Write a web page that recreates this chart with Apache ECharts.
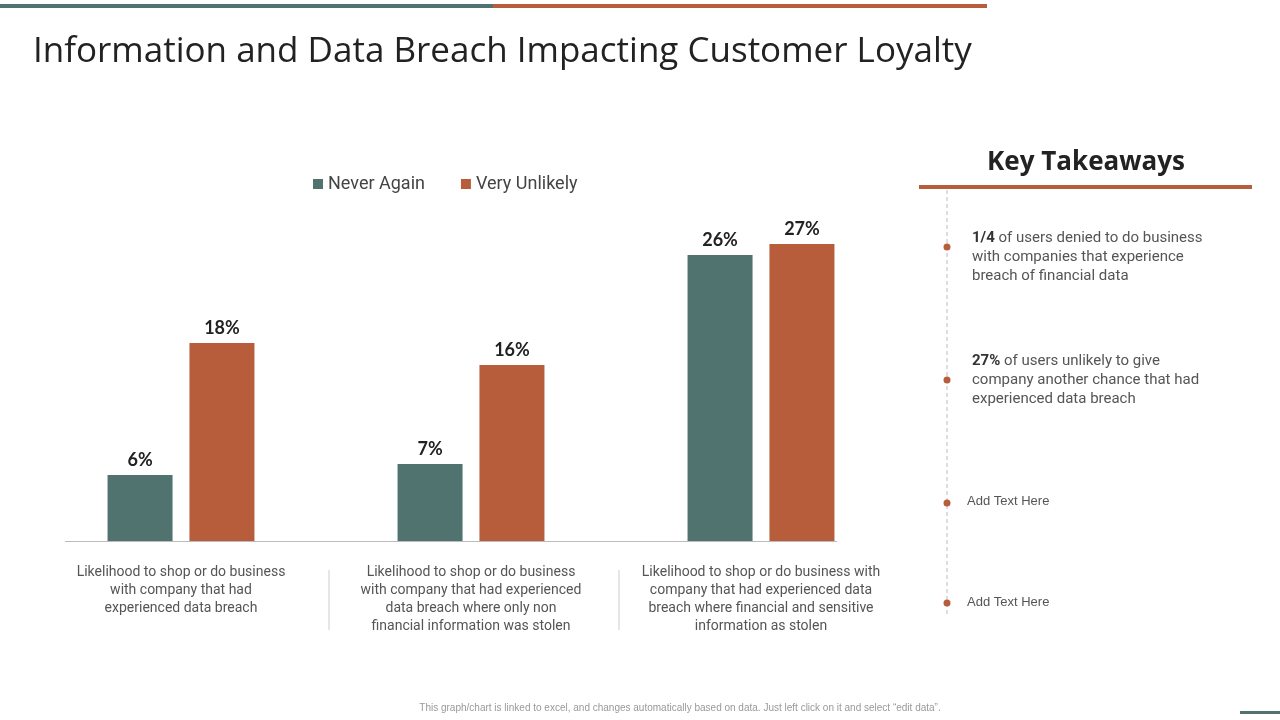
<!DOCTYPE html>
<html><head><meta charset="utf-8">
<script src="https://cdn.jsdelivr.net/npm/echarts@6/dist/echarts.min.js"></script>
<style>html,body{margin:0;padding:0;background:#fff}#c{width:1280px;height:720px}</style>
</head><body><div id="c"></div>
<script>
const categories = [
  "Likelihood to shop or do business\nwith company that had\nexperienced data breach",
  "Likelihood to shop or do business\nwith company that had experienced\ndata breach where only non\nfinancial information was stolen",
  "Likelihood to shop or do business with\ncompany that had experienced data\nbreach where financial and sensitive\ninformation as stolen"
];
const neverAgain = [6, 7, 26];
const veryUnlikely = [18, 16, 27];
const teal = '#51736f', orange = '#b75d3b';
const chart = echarts.init(document.getElementById('c'));
const lbl = {show:true, position:'top', formatter:'{c}%', fontSize:18, fontWeight:'bold', color:'#222', fontFamily:'Lato', distance:6};
const rich = {b:{fontWeight:'bold', fontSize:15, fill:'#333', fontFamily:'Roboto'}};
chart.setOption({
  animation:false,
  textStyle:{fontFamily:'Roboto'},
  title:{text:'Information and Data Breach Impacting Customer Loyalty', left:28, top:30,
    textStyle:{fontSize:35, fontWeight:'normal', color:'#222', fontFamily:'Open Sans'}},
  legend:{top:170, left:308, itemWidth:10, itemHeight:10, itemGap:36, icon:'rect',
    textStyle:{fontSize:18, color:'#444'}},
  grid:{left:36, width:870, top:244, bottom:179},
  xAxis:{type:'category', data:categories, axisLine:{show:false}, axisTick:{show:false},
    axisLabel:{interval:0, fontSize:14, color:'#555', lineHeight:18, margin:22, verticalAlign:'top'}},
  yAxis:{type:'value', min:0, max:27, show:false, splitLine:{show:false}},
  series:[
    {name:'Never Again', type:'bar', data:neverAgain, barWidth:65, barGap:'26%', itemStyle:{color:teal}, label:lbl},
    {name:'Very Unlikely', type:'bar', data:veryUnlikely, barWidth:65, itemStyle:{color:orange}, label:lbl}
  ],
  graphic:[
    {type:'rect', shape:{x:0,y:4,width:493,height:4}, style:{fill:teal}},
    {type:'rect', shape:{x:493,y:4,width:494,height:4}, style:{fill:orange}},
    {type:'rect', shape:{x:1240,y:711,width:40,height:3}, style:{fill:teal}},
    {type:'line', shape:{x1:65,y1:541.5,x2:837,y2:541.5}, style:{stroke:'#bbb', lineWidth:1}},
    {type:'line', shape:{x1:329,y1:570,x2:329,y2:630}, style:{stroke:'#ccc', lineWidth:1}},
    {type:'line', shape:{x1:619,y1:570,x2:619,y2:630}, style:{stroke:'#ccc', lineWidth:1}},
    {type:'text', x:1086, y:163, style:{text:'Key Takeaways', fontSize:26, fontWeight:'bold', fill:'#222', fontFamily:'Open Sans', align:'center', verticalAlign:'middle'}},
    {type:'rect', shape:{x:919,y:185,width:333,height:4}, style:{fill:orange}},
    {type:'line', shape:{x1:947,y1:190,x2:947,y2:615}, style:{stroke:'#bbb', lineWidth:1, lineDash:[4,3]}},
    {type:'circle', shape:{cx:947,cy:247,r:3.5}, style:{fill:orange}},
    {type:'circle', shape:{cx:947,cy:380,r:3.5}, style:{fill:orange}},
    {type:'circle', shape:{cx:947,cy:503,r:3.5}, style:{fill:orange}},
    {type:'circle', shape:{cx:947,cy:603,r:3.5}, style:{fill:orange}},
    {type:'text', x:972, y:229, style:{text:'{b|1/4} of users denied to do business\nwith companies that experience\nbreach of financial data', fontSize:15, lineHeight:19, fill:'#555', fontFamily:'Roboto', rich:rich}},
    {type:'text', x:972, y:352, style:{text:'{b|27%} of users unlikely to give\ncompany another chance that had\nexperienced data breach', fontSize:15, lineHeight:19, fill:'#555', fontFamily:'Roboto', rich:rich}},
    {type:'text', x:967, y:501, style:{text:'Add Text Here', fontSize:13, fill:'#555', verticalAlign:'middle'}},
    {type:'text', x:967, y:602, style:{text:'Add Text Here', fontSize:13, fill:'#555', verticalAlign:'middle'}},
    {type:'text', x:680, y:708, style:{text:'This graph/chart is linked to excel, and changes automatically based on data. Just left click on it and select \u201cedit data\u201d.', fontSize:10, fill:'#999', align:'center', verticalAlign:'middle'}}
  ]
});
</script></body></html>
